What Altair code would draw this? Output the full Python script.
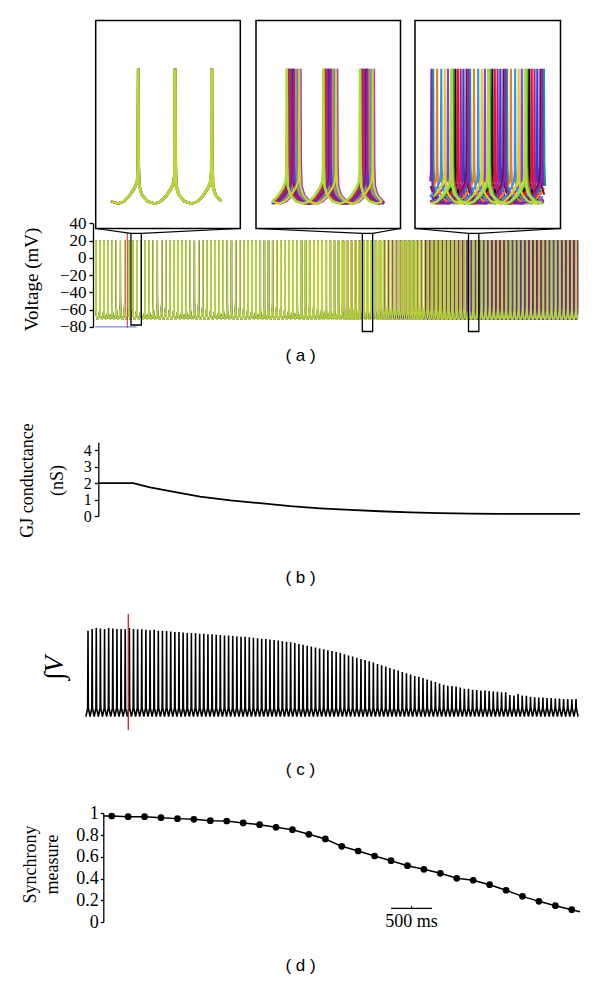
import altair as alt
import pandas as pd

# ---------------------------------------------------------------- layout
PAGE_MARGIN = 8
W, H = 584, 967                      # plot area = whole page minus the 8px margin
SERIF = "Liberation Serif"
SANS = "Liberation Sans"


def px(page):
    """page pixel -> plot-area pixel"""
    return page - PAGE_MARGIN


def lin(domain, rng):
    return alt.Scale(domain=list(domain), range=list(rng), nice=False, zero=False)


# ---------------------------------------------------------------- data
# neurons of the network (draw order: last on top)
NEURON_NAMES = ["purple", "blue", "black", "teal", "red", "magenta", "orange",
                "darkred", "green", "skyblue", "violet", "yellow", "lime", "yellowgreen"]
NEURON_COLORS = ["#9b30ff", "#2040f0", "#111111", "#1a9a8a", "#e0103c", "#b82078", "#e8801e",
                 "#8a0a24", "#20b838", "#3a8cff", "#7a28c8", "#d8d800", "#8cf04a", "#bcd43a"]
# phase lag of each neuron (fraction of a cycle) once fully desynchronised
NEURON_LAG = [0.97, 0.36, 0.13, 0.55, 0.2, 0.28, 0.66, 0.45, 0.06, 0.78, 0.5, 0.88, 0.0, 0.03]

SPIKE_PERIOD_MS = 50
FIRST_SPIKE_MS = 10
N_CYCLES = 118
TRACE_END_MS = 5880
# desynchronisation (0 = synchronous, 1 = lags spread over a whole cycle), per 10 cycles
DESYNC_PER_10_CYCLES = [0.02, 0.03, 0.05, 0.08, 0.12, 0.2, 0.4, 0.55, 0.75, 0.95, 1.0, 1.0]

# one inter-spike interval of the membrane potential (phase after the spike, mV)
WAVE_PHASE = [0.0, 0.01, 0.03, 0.1, 0.25, 0.45, 0.6, 0.75, 0.9, 0.97, 0.99]
WAVE_MV = [20, -45, -60, -66, -70.4, -72, -70.7, -67, -61.3, -56.8, -50]

# zoom windows of panel (a)
INSET_CENTER_MS = [501, 3317, 4610]
INSET_HALF_TRACE_MS = 78
RECT_HALF_MS = 63
RECT_TOP_MV = 28.4
RECT_BOTTOM_MV = [-77.8, -85.3, -85.3]
MARK_MS = 393                 # red marker in (a)
MARK_MV = [-81.5, 29]
STIM_MS = [0, 508]            # blue baseline in (a)
STIM_MV = -80

# panel (b): gap-junction conductance
GJ_T_MS = [0, 425, 630, 940, 1240, 1610, 1970, 2340, 2700, 3070, 3430, 3800, 4160, 4530, 4890, 5380, 5870]
GJ_NS = [2.0, 2.0, 1.75, 1.45, 1.18, 0.95, 0.78, 0.6, 0.47, 0.37, 0.29, 0.22, 0.17, 0.14, 0.13, 0.13, 0.13]

# panel (c): summed voltage, peak of every cycle (normalised)
SUM_PEAKS = [
    0.97, 0.99, 1.0, 0.995, 0.99, 1.0, 0.995, 0.99, 0.99, 0.985,
    1.0, 0.99, 0.985, 0.985, 0.98, 0.975, 0.98, 0.97, 0.97, 0.965,
    0.96, 0.955, 0.955, 0.95, 0.945, 0.945, 0.94, 0.935, 0.935, 0.93,
    0.93, 0.925, 0.92, 0.915, 0.915, 0.91, 0.905, 0.9, 0.9, 0.895,
    0.89, 0.885, 0.88, 0.875, 0.87, 0.865, 0.86, 0.85, 0.845, 0.84,
    0.83, 0.82, 0.81, 0.8, 0.79, 0.78, 0.77, 0.76, 0.75, 0.74,
    0.73, 0.72, 0.705, 0.69, 0.68, 0.665, 0.65, 0.64, 0.625, 0.61,
    0.595, 0.58, 0.565, 0.55, 0.535, 0.52, 0.505, 0.49, 0.475, 0.46,
    0.45, 0.435, 0.42, 0.405, 0.39, 0.375, 0.36, 0.35, 0.345, 0.34,
    0.33, 0.315, 0.315, 0.305, 0.3, 0.295, 0.295, 0.29, 0.285, 0.28,
    0.275, 0.275, 0.245, 0.24, 0.255, 0.24, 0.235, 0.225, 0.22, 0.215,
    0.215, 0.21, 0.21, 0.205, 0.205, 0.2, 0.2, 0.195, 0.2,
]
SUM_WAVE_PHASE = [0.08, 0.5, 0.92]      # between peaks
SUM_WAVE_LEVEL = [0.1, 0.0, 0.1]
SUM_MARK_CYCLE = 9.74
SUM_MARK_LEVEL = [-0.15, 1.158]
SUM_LABEL = "∫V"

# panel (d): synchrony measure every 200 ms
SYNC_T_MS = [100, 300, 500, 700, 900, 1100, 1300, 1500, 1700, 1900, 2100, 2300, 2500, 2700, 2900,
             3100, 3300, 3500, 3700, 3900, 4100, 4300, 4500, 4700, 4900, 5100, 5300, 5500, 5700]
SYNC = [0.975, 0.969, 0.969, 0.96, 0.951, 0.945, 0.932, 0.929, 0.911, 0.895, 0.871, 0.849, 0.807,
        0.764, 0.696, 0.653, 0.607, 0.564, 0.518, 0.485, 0.448, 0.402, 0.384, 0.343, 0.292, 0.236,
        0.19, 0.15, 0.113]
SYNC_LINE_ENDS_MS = [0, 5800]
SYNC_LINE_ENDS = [0.975, 0.095]
SCALEBAR_MS = [3500, 4000]
SCALEBAR_LABEL = "500 ms"

# ---------------------------------------------------------------- tables
P = SPIKE_PERIOD_MS
rows = []
for name, lag in zip(NEURON_NAMES, NEURON_LAG):
    spikes = [FIRST_SPIKE_MS + i * P + lag * DESYNC_PER_10_CYCLES[i // 10] * P for i in range(N_CYCLES)]
    spikes = [spikes[0] - P] + spikes + [spikes[-1] + P]
    for a, b in zip(spikes[:-1], spikes[1:]):
        for ph, mv in zip(WAVE_PHASE, WAVE_MV):
            t = a + ph * (b - a)
            if 0 <= t <= TRACE_END_MS:
                rows.append({"n": name, "t": round(t, 2), "v": mv})
trace_df = pd.DataFrame(rows)

sum_rows = [{"c": -0.5, "s": 0.0}, {"c": -0.08, "s": 0.1}]
for i, pk in enumerate(SUM_PEAKS):
    sum_rows.append({"c": i, "s": pk})
    for ph, lv in zip(SUM_WAVE_PHASE, SUM_WAVE_LEVEL):
        if i + ph <= len(SUM_PEAKS) - 0.5:
            sum_rows.append({"c": i + ph, "s": lv})
sum_df = pd.DataFrame(sum_rows)

gj_df = pd.DataFrame({"t": GJ_T_MS, "g": GJ_NS})
sync_df = pd.DataFrame({"t": SYNC_T_MS, "s": SYNC})
sync_line_df = pd.DataFrame({"t": [SYNC_LINE_ENDS_MS[0]] + SYNC_T_MS + [SYNC_LINE_ENDS_MS[1]],
                             "s": [SYNC_LINE_ENDS[0]] + SYNC + [SYNC_LINE_ENDS[1]]})

color_scale = alt.Scale(domain=NEURON_NAMES, range=NEURON_COLORS)

# ---------------------------------------------------------------- scales
A_T, A_XR = [0, TRACE_END_MS], [px(95), px(578)]
A_V, A_YR = [-80, 40], [px(326.9), px(223.3)]
a_x, a_y = lin(A_T, A_XR), lin(A_V, A_YR)


def a_t(page_x):
    return A_T[0] + (px(page_x) - A_XR[0]) * (A_T[1] - A_T[0]) / (A_XR[1] - A_XR[0])


def a_v(page_y):
    return A_V[0] + (px(page_y) - A_YR[0]) * (A_V[1] - A_V[0]) / (A_YR[1] - A_YR[0])


INSET_PAGE_X = [(95.7, 240.3), (256.0, 400.5), (415.0, 560.5)]
INSET_PAGE_TOP, INSET_PAGE_BOTTOM = 20.5, 228.5
INSET_MV = [-89, 53]
INSET_HALF_BOX_MS = 98.5

b_x = lin([0, 5870], [px(98.3), px(580)])
b_y = lin([0, 4.5], [px(516), px(442.2)])
c_x = lin([0, 118], [px(88), px(576)])
c_y = lin([0, 1], [px(716.7), px(628)])
d_x = lin([0, 5800], [px(103.5), px(580)])
d_y = lin([0, 1], [px(922), px(813.3)])


def letter_axis(text, page_y):
    return alt.Axis(orient="bottom", offset=px(page_y) - H, domain=False, ticks=False,
                    labels=False, title=text, titleFont=SANS, titleFontSize=17,
                    titleX=px(300), titleY=0, titleAlign="center", titleBaseline="middle",
                    titleAngle=0)


layers = []

# ---- panel (a) main trace
layers.append(
    alt.Chart(trace_df).mark_line(strokeWidth=0.9).encode(
        x=alt.X("t:Q", scale=a_x, axis=letter_axis("( a )", 355)),
        y=alt.Y("v:Q", scale=a_y, axis=alt.Axis(
            orient="left", offset=-px(93), values=[-80, -60, -40, -20, 0, 20, 40],
            tickSize=4, labelFontSize=17, labelPadding=3, labelOverlap=False,
            title="Voltage (mV)", titleFontSize=19, titleX=31 - 93, titleY=px(279),
            titleAngle=270, titleAlign="center", titleBaseline="middle")),
        color=alt.Color("n:N", scale=color_scale, legend=None),
    )
)
layers.append(
    alt.Chart(pd.DataFrame({"t": [MARK_MS], "v0": [MARK_MV[0]], "v1": [MARK_MV[1]]}))
    .mark_rule(color="#e02424", strokeWidth=1)
    .encode(x=alt.X("t:Q", scale=a_x, axis=None), y=alt.Y("v0:Q", scale=a_y, axis=None), y2="v1:Q")
)
layers.append(
    alt.Chart(pd.DataFrame({"t0": [STIM_MS[0]], "t1": [STIM_MS[1]], "v": [STIM_MV]}))
    .mark_rule(color="#5a6cff", strokeWidth=1)
    .encode(x=alt.X("t0:Q", scale=a_x, axis=None), x2="t1:Q", y=alt.Y("v:Q", scale=a_y, axis=None))
)
rect_df = pd.DataFrame({"t0": [c - RECT_HALF_MS for c in INSET_CENTER_MS],
                        "t1": [c + RECT_HALF_MS for c in INSET_CENTER_MS],
                        "v0": RECT_BOTTOM_MV, "v1": [RECT_TOP_MV] * 3})
layers.append(
    alt.Chart(rect_df).mark_rect(fillOpacity=0, stroke="black", strokeWidth=1.3)
    .encode(x=alt.X("t0:Q", scale=a_x, axis=None), x2="t1:Q",
            y=alt.Y("v0:Q", scale=a_y, axis=None), y2="v1:Q")
)
con_rows = []
for c, (xl, xr) in zip(INSET_CENTER_MS, INSET_PAGE_X):
    vb = a_v(INSET_PAGE_BOTTOM)
    con_rows.append({"t0": a_t(xl), "v0": vb, "t1": c - RECT_HALF_MS, "v1": RECT_TOP_MV})
    con_rows.append({"t0": a_t(xr), "v0": vb, "t1": c + RECT_HALF_MS, "v1": RECT_TOP_MV})
layers.append(
    alt.Chart(pd.DataFrame(con_rows)).mark_rule(color="black", strokeWidth=1.2)
    .encode(x=alt.X("t0:Q", scale=a_x, axis=None), x2="t1:Q",
            y=alt.Y("v0:Q", scale=a_y, axis=None), y2="v1:Q")
)

# ---- insets
for c, (xl, xr) in zip(INSET_CENTER_MS, INSET_PAGE_X):
    xs = lin([c - INSET_HALF_BOX_MS, c + INSET_HALF_BOX_MS], [px(xl), px(xr)])
    ys = lin(INSET_MV, [px(INSET_PAGE_BOTTOM), px(INSET_PAGE_TOP)])
    box_df = pd.DataFrame({"t0": [c - INSET_HALF_BOX_MS], "t1": [c + INSET_HALF_BOX_MS],
                           "v0": [INSET_MV[0]], "v1": [INSET_MV[1]]})
    layers.append(
        alt.Chart(box_df).mark_rect(fill="white", stroke="black", strokeWidth=1.5)
        .encode(x=alt.X("t0:Q", scale=xs, axis=None), x2="t1:Q",
                y=alt.Y("v0:Q", scale=ys, axis=None), y2="v1:Q")
    )
    layers.append(
        alt.Chart(trace_df)
        .transform_filter((alt.datum.t >= c - INSET_HALF_TRACE_MS) & (alt.datum.t <= c + INSET_HALF_TRACE_MS))
        .mark_line(strokeWidth=2.1)
        .encode(x=alt.X("t:Q", scale=xs, axis=None), y=alt.Y("v:Q", scale=ys, axis=None),
                color=alt.Color("n:N", scale=color_scale, legend=None))
    )

# ---- panel (b)
layers.append(
    alt.Chart(gj_df).mark_line(color="black", strokeWidth=1.8).encode(
        x=alt.X("t:Q", scale=b_x, axis=letter_axis("( b )", 577)),
        y=alt.Y("g:Q", scale=b_y, axis=alt.Axis(
            orient="left", offset=-px(98.3), values=[0, 1, 2, 3, 4], tickSize=4,
            labelFontSize=16, labelPadding=3, labelOverlap=False,
            title=["GJ conductance", "(nS)"], titleFontSize=18, titleLineHeight=30,
            titleX=27.5 - 98.3, titleY=px(480), titleAngle=270, titleAlign="center",
            titleBaseline="middle")),
    )
)

# ---- panel (c)
layers.append(
    alt.Chart(sum_df).mark_line(color="black", strokeWidth=1.6).encode(
        x=alt.X("c:Q", scale=c_x, axis=letter_axis("( c )", 769)),
        y=alt.Y("s:Q", scale=c_y, axis=None),
    )
)
layers.append(
    alt.Chart(pd.DataFrame({"c": [SUM_MARK_CYCLE], "s0": [SUM_MARK_LEVEL[0]], "s1": [SUM_MARK_LEVEL[1]]}))
    .mark_rule(color="#d42020", strokeWidth=1.3)
    .encode(x=alt.X("c:Q", scale=c_x, axis=None), y=alt.Y("s0:Q", scale=c_y, axis=None), y2="s1:Q")
)
layers.append(
    alt.Chart(pd.DataFrame({"label": [SUM_LABEL]}))
    .mark_text(font=SERIF, fontSize=27, fontStyle="italic", color="black", angle=270,
               align="center", baseline="middle")
    .encode(x=alt.value(px(55)), y=alt.value(px(668)), text="label:N")
)

# ---- panel (d)
layers.append(
    alt.Chart(sync_line_df).mark_line(color="black", strokeWidth=1.5).encode(
        x=alt.X("t:Q", scale=d_x, axis=letter_axis("( d )", 965)),
        y=alt.Y("s:Q", scale=d_y, axis=alt.Axis(
            orient="left", offset=-px(103.3), values=[0, 0.2, 0.4, 0.6, 0.8, 1], format="~g",
            tickSize=3, labelFontSize=18, labelPadding=2, labelOverlap=False,
            title=["Synchrony", "measure"], titleFontSize=18, titleLineHeight=22,
            titleX=30.5 - 103.3, titleY=px(864), titleAngle=270, titleAlign="center",
            titleBaseline="middle")),
    )
)
layers.append(
    alt.Chart(sync_df).mark_circle(color="black", size=45, opacity=1).encode(
        x=alt.X("t:Q", scale=d_x, axis=None), y=alt.Y("s:Q", scale=d_y, axis=None))
)
sb_mid = (SCALEBAR_MS[0] + SCALEBAR_MS[1]) / 2
layers.append(
    alt.Chart(pd.DataFrame({"t0": [SCALEBAR_MS[0]], "t1": [SCALEBAR_MS[1]], "s": [0.125]}))
    .mark_rule(color="black", strokeWidth=1.2)
    .encode(x=alt.X("t0:Q", scale=d_x, axis=None), x2="t1:Q", y=alt.Y("s:Q", scale=d_y, axis=None))
)
layers.append(
    alt.Chart(pd.DataFrame({"t": [sb_mid], "s0": [0.125], "s1": [0.147]}))
    .mark_rule(color="black", strokeWidth=1)
    .encode(x=alt.X("t:Q", scale=d_x, axis=None), y=alt.Y("s0:Q", scale=d_y, axis=None), y2="s1:Q")
)
layers.append(
    alt.Chart(pd.DataFrame({"t": [sb_mid], "s": [0.0], "label": [SCALEBAR_LABEL]}))
    .mark_text(font=SERIF, fontSize=18, color="black", align="center", baseline="middle")
    .encode(x=alt.X("t:Q", scale=d_x, axis=None), y=alt.Y("s:Q", scale=d_y, axis=None), text="label:N")
)

chart = (
    alt.layer(*layers)
    .resolve_scale(x="independent", y="independent")
    .properties(width=W, height=H, autosize=alt.AutoSizeParams(type="none"), padding=0,
                background="white")
    .configure_view(strokeWidth=0)
    .configure_axis(grid=False, domainColor="black", tickColor="black", labelColor="black",
                    titleColor="black", titleFontWeight="normal", labelFont=SERIF,
                    titleFont=SERIF, domainWidth=1.3, tickWidth=1.3)
)

chart.save("out.html", embed_options={"renderer": "svg", "actions": False})
